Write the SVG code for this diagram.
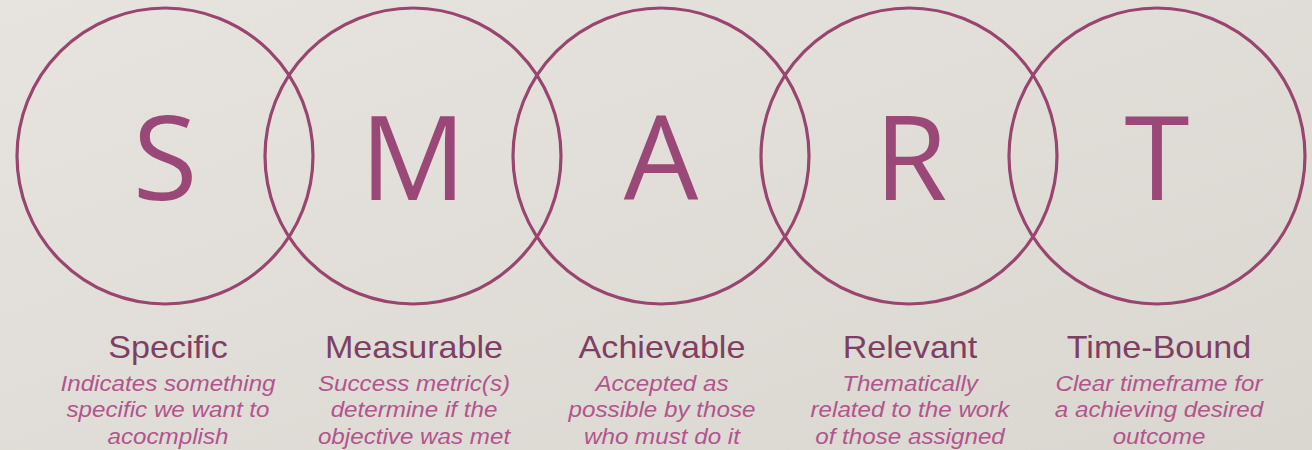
<svg xmlns="http://www.w3.org/2000/svg" width="1312" height="450" viewBox="0 0 1312 450">
  <defs>
    <linearGradient id="bg" x1="0" y1="0" x2="1" y2="1">
      <stop offset="0" stop-color="#e7e4df"/>
      <stop offset="1" stop-color="#dad7d1"/>
    </linearGradient>
    <style>
      .ring { fill: none; stroke: #98456f; stroke-width: 3.2; }
      .letter { font-family: "Open Sans", "Noto Sans", sans-serif; font-size: 118px; font-weight: 500; fill: #9a4878; text-anchor: middle; }
      .title { font-family: "Liberation Sans", Arial, sans-serif; font-size: 31px; fill: #7e3f63; text-anchor: middle; }
      .desc { font-family: "Liberation Sans", Arial, sans-serif; font-size: 22px; font-style: italic; fill: #b2558d; text-anchor: middle; }
    </style>
  </defs>

  <rect width="1312" height="450" fill="url(#bg)"/>

  <!-- S -->
  <g id="node-specific">
    <circle class="ring" cx="165" cy="156" r="148"/>
    <text class="letter" x="165" y="200">S</text>
    <g transform="translate(168,0) scale(1.1,1)">
      <text class="title" x="0" y="358">Specific</text>
      <text class="desc" x="0" y="391">Indicates something</text>
      <text class="desc" x="0" y="417.5">specific we want to</text>
      <text class="desc" x="0" y="444">acocmplish</text>
    </g>
  </g>

  <!-- M -->
  <g id="node-measurable">
    <circle class="ring" cx="413" cy="156" r="148"/>
    <text class="letter" x="413" y="200">M</text>
    <g transform="translate(414,0) scale(1.1,1)">
      <text class="title" x="0" y="358">Measurable</text>
      <text class="desc" x="0" y="391">Success metric(s)</text>
      <text class="desc" x="0" y="417.5">determine if the</text>
      <text class="desc" x="0" y="444">objective was met</text>
    </g>
  </g>

  <!-- A -->
  <g id="node-achievable">
    <circle class="ring" cx="661" cy="156" r="148"/>
    <text class="letter" x="661" y="200">A</text>
    <g transform="translate(662,0) scale(1.1,1)">
      <text class="title" x="0" y="358">Achievable</text>
      <text class="desc" x="0" y="391">Accepted as</text>
      <text class="desc" x="0" y="417.5">possible by those</text>
      <text class="desc" x="0" y="444">who must do it</text>
    </g>
  </g>

  <!-- R -->
  <g id="node-relevant">
    <circle class="ring" cx="909" cy="156" r="148"/>
    <text class="letter" x="911" y="200">R</text>
    <g transform="translate(910,0) scale(1.1,1)">
      <text class="title" x="0" y="358">Relevant</text>
      <text class="desc" x="0" y="391">Thematically</text>
      <text class="desc" x="0" y="417.5">related to the work</text>
      <text class="desc" x="0" y="444">of those assigned</text>
    </g>
  </g>

  <!-- T -->
  <g id="node-timebound">
    <circle class="ring" cx="1157" cy="156" r="148"/>
    <text class="letter" x="1157" y="200">T</text>
    <g transform="translate(1159,0) scale(1.1,1)">
      <text class="title" x="0" y="358">Time-Bound</text>
      <text class="desc" x="0" y="391">Clear timeframe for</text>
      <text class="desc" x="0" y="417.5">a achieving desired</text>
      <text class="desc" x="0" y="444">outcome</text>
    </g>
  </g>

  <g id="connectors"/>
</svg>
